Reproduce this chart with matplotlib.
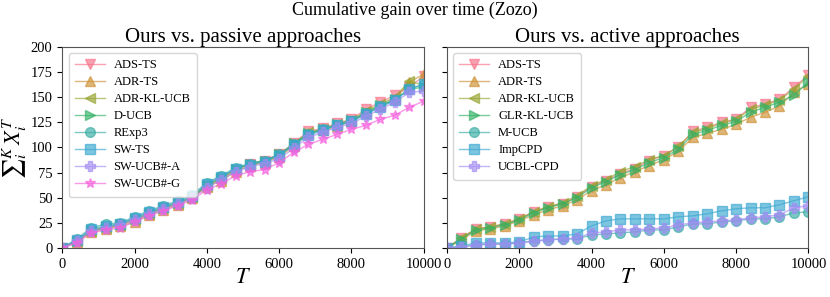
import matplotlib
matplotlib.use("Agg")
import matplotlib.pyplot as plt
import seaborn as sns

plt.rcParams["font.family"] = ["Liberation Serif", "DejaVu Serif"]
plt.rcParams["mathtext.fontset"] = "stix"

T = [0, 400, 800, 1200, 1600, 2000, 2400, 2800, 3200, 3600, 4000, 4400, 4800,
     5200, 5600, 6000, 6400, 6800, 7200, 7600, 8000, 8400, 8800, 9200, 9600, 10000]

# Ours vs. passive approaches
passive_names = ["ADS-TS", "ADR-TS", "ADR-KL-UCB", "D-UCB", "RExp3", "SW-TS", "SW-UCB#-A", "SW-UCB#-G"]
passive_vals = [
    [0, 7, 17, 20, 23, 28, 34, 40, 44, 50, 62, 69, 78, 84, 87, 93, 104, 116, 119, 124, 128, 138, 145, 152, 160, 171],
    [0, 6, 16, 19, 22, 26, 33, 38, 43, 50, 61, 67, 76, 82, 85, 91, 101, 114, 117, 121, 126, 134, 141, 148, 165, 173],
    [0, 7, 17, 20, 23, 28, 34, 40, 44, 51, 62, 69, 78, 83, 86, 92, 103, 115, 118, 123, 127, 136, 143, 150, 166, 162],
    [0, 7, 18, 21, 24, 29, 35, 40, 45, 51, 63, 70, 79, 84, 87, 93, 104, 114, 118, 123, 127, 135, 142, 148, 158, 160],
    [0, 9, 20, 24, 25, 31, 37, 42, 47, 53, 65, 72, 80, 84, 87, 93, 103, 113, 118, 122, 126, 134, 141, 147, 158, 163],
    [0, 8, 19, 22, 24, 30, 36, 41, 46, 52, 64, 71, 79, 83, 86, 92, 102, 112, 117, 122, 126, 133, 140, 147, 158, 163],
    [0, 7, 17, 20, 23, 28, 34, 39, 44, 50, 60, 68, 76, 81, 84, 89, 99, 110, 115, 120, 124, 131, 138, 145, 155, 156],
    [0, 5, 15, 18, 20, 26, 32, 37, 42, 48, 58, 64, 72, 76, 78, 85, 95, 103, 108, 113, 118, 122, 128, 132, 140, 146],
]
passive_markers = ["v", "^", "<", ">", "o", "s", "P", "*"]

# Ours vs. active approaches
active_names = ["ADS-TS", "ADR-TS", "ADR-KL-UCB", "GLR-KL-UCB", "M-UCB", "ImpCPD", "UCBL-CPD"]
active_vals = [
    [0, 10, 19, 21, 24, 29, 36, 41, 44, 51, 61, 67, 74, 79, 87, 92, 100, 116, 120, 125, 128, 140, 143, 148, 160, 172],
    [0, 8, 17, 19, 22, 27, 33, 38, 42, 48, 57, 63, 70, 76, 82, 88, 96, 110, 114, 118, 123, 130, 135, 141, 155, 163],
    [0, 10, 19, 21, 24, 29, 36, 41, 45, 52, 62, 68, 76, 81, 88, 92, 101, 115, 119, 124, 128, 138, 142, 147, 158, 171],
    [0, 9, 18, 20, 23, 28, 35, 40, 44, 50, 60, 66, 73, 78, 85, 90, 98, 113, 117, 122, 126, 135, 140, 145, 152, 165],
    [0, 1, 3, 4, 4, 5, 7, 8, 9, 9, 13, 14, 15, 16, 18, 18, 21, 24, 24, 26, 27, 29, 29, 31, 35, 36],
    [0, 2, 5, 5, 5, 6, 11, 12, 12, 14, 22, 27, 29, 29, 29, 29, 31, 32, 34, 37, 39, 40, 40, 43, 47, 51],
    [0, 1, 3, 4, 4, 5, 7, 8, 9, 10, 15, 16, 18, 18, 19, 20, 23, 25, 26, 27, 28, 30, 31, 33, 40, 42],
]
active_markers = ["v", "^", "<", ">", "o", "s", "P"]

colors = sns.color_palette("husl", 8)

fig, axes = plt.subplots(1, 2, figsize=(8.3, 2.97), dpi=100, sharey=True)
fig.subplots_adjust(left=0.075, right=0.974, bottom=0.165, top=0.842, wspace=0.064)


def panel(ax, names, vals, markers, title):
    for i, (name, y) in enumerate(zip(names, vals)):
        ax.plot(T, y, marker=markers[i], color=colors[i], label=name,
                linewidth=1, markersize=7, alpha=0.65)
    ax.set_title(title, fontsize=15, pad=2)
    ax.set_xlim(0, 10000)
    ax.set_ylim(0, 200)
    ax.set_xticks(range(0, 10001, 2000))
    ax.set_yticks(range(0, 201, 25))
    ax.tick_params(labelsize=10.5)
    for s in ax.spines.values():
        s.set_color("#555555")
    ax.set_xlabel("$T$", fontsize=16, labelpad=-1)
    ax.legend(loc="upper left", fontsize=9, handlelength=2.4, labelspacing=0.4,
              borderpad=0.5, handletextpad=0.7)


panel(axes[0], passive_names, passive_vals, passive_markers, "Ours vs. passive approaches")
panel(axes[1], active_names, active_vals, active_markers, "Ours vs. active approaches")
axes[0].set_ylabel(r"$\sum{}_i^K\, X_i^T$", fontsize=16, labelpad=1)

fig.suptitle("Cumulative gain over time (Zozo)", fontsize=13, y=0.995)

plt.savefig("out.png", dpi=100)
